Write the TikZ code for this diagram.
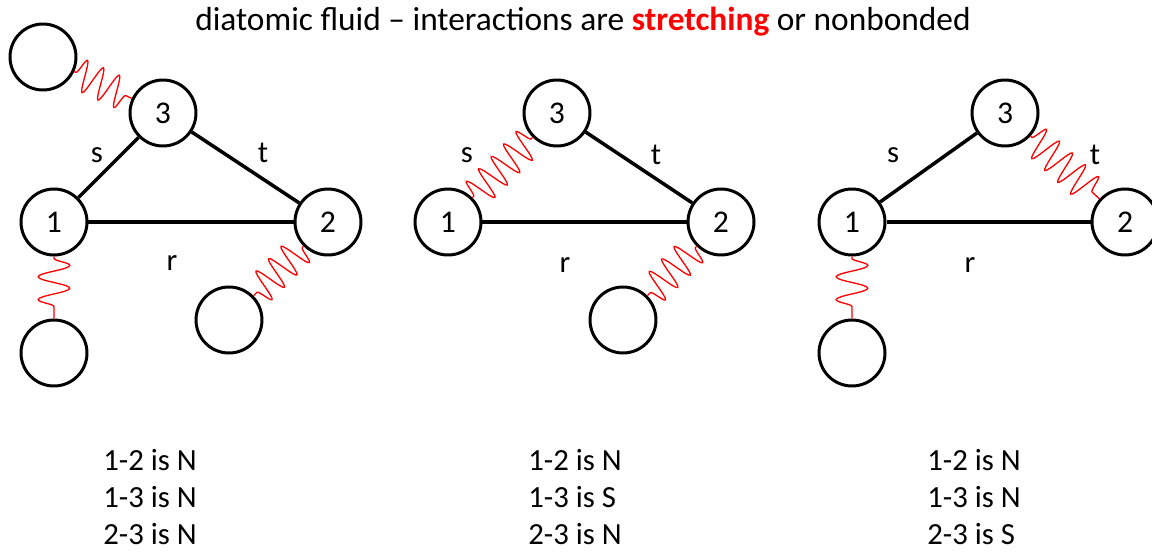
\documentclass[tikz,border=0pt]{standalone}
\usepackage{fontspec}
\setmainfont{Carlito}
\usetikzlibrary{decorations.pathmorphing}

\begin{document}
\begin{tikzpicture}[x=0.02cm, y=-0.02cm, font=\fontsize{17.5}{21}\selectfont,
    atom/.style={circle, draw, line width=1.7pt, minimum size=1.32cm, inner sep=0pt, font=\fontsize{18}{21}\selectfont},
    bond/.style={line width=2pt},
    spring/.style={red, line width=0.75pt, decorate,
      decoration={snake, amplitude=9pt, segment length=10pt, pre length=1pt, post length=1pt}},
    lbl/.style={inner sep=0pt},
    list/.style={anchor=west, inner sep=0pt}]
    \useasboundingbox (0,0) rectangle (1152,554);
    % title
    \node[lbl, font=\fontsize{19}{22}\selectfont] (title) at (583,22) {diatomic fluid -- interactions are \textcolor{red}{\textbf{stretching}} or nonbonded};

    % panel 1: all nonbonded
    \node[atom] (a1) at (54,222) {1};
    \node[atom] (a2) at (328,222) {2};
    \node[atom] (a3) at (163,113) {3};
    \node[atom] (ax) at (43,57) {};
    \node[atom] (ay) at (54,353) {};
    \node[atom] (az) at (229,320) {};
    \draw[bond] (a1) -- (a2);
    \draw[bond] (a1) -- (a3);
    \draw[bond] (a3) -- (a2);
    \draw[spring] (ax) -- (a3);
    \draw[spring, decoration={segment length=13pt}] (a1) -- (ay);
    \draw[spring] (a2) -- (az);
    \node[lbl] (as) at (97,155) {s};
    \node[lbl] (at) at (263,153) {t};
    \node[lbl] (ar) at (172,263) {r};
    \node[list] (al1) at (103,460) {1-2 is N};
    \node[list] (al2) at (103,497) {1-3 is N};
    \node[list] (al3) at (103,534) {2-3 is N};

    % panel 2: 1-3 stretching
    \node[atom] (b1) at (448,222) {1};
    \node[atom] (b2) at (721,222) {2};
    \node[atom] (b3) at (557,113) {3};
    \node[atom] (bz) at (623,320) {};
    \draw[bond] (b1) -- (b2);
    \draw[bond] (b3) -- (b2);
    \draw[spring] (b1) -- (b3);
    \draw[spring] (b2) -- (bz);
    \node[lbl] (bs) at (467,155) {s};
    \node[lbl] (bt) at (656,155) {t};
    \node[lbl] (br) at (565,265) {r};
    \node[list] (bl1) at (528,460) {1-2 is N};
    \node[list] (bl2) at (528,497) {1-3 is S};
    \node[list] (bl3) at (528,534) {2-3 is N};

    % panel 3: 2-3 stretching
    \node[atom] (c1) at (852,222) {1};
    \node[atom] (c2) at (1125,222) {2};
    \node[atom] (c3) at (1005,113) {3};
    \node[atom] (cy) at (852,353) {};
    \draw[bond] (c1) -- (c2);
    \draw[bond] (c1) -- (c3);
    \draw[spring] (c3) -- (c2);
    \draw[spring, decoration={segment length=13pt}] (c1) -- (cy);
    \node[lbl] (cs) at (893,155) {s};
    \node[lbl] (ct) at (1095,155) {t};
    \node[lbl] (cr) at (970,265) {r};
    \node[list] (cl1) at (927,460) {1-2 is N};
    \node[list] (cl2) at (927,497) {1-3 is N};
    \node[list] (cl3) at (927,534) {2-3 is S};
\end{tikzpicture}
\end{document}
